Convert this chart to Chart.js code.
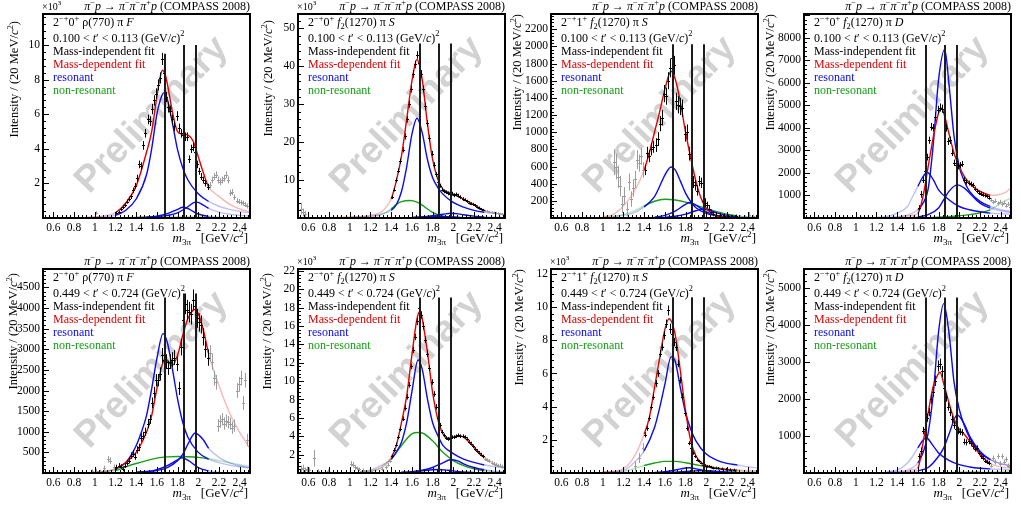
<!DOCTYPE html>
<html lang="en">
<head>
<meta charset="UTF-8">
<title>COMPASS 2008 – 2-+ waves</title>
<script src="https://cdn.jsdelivr.net/npm/chart.js"></script>
<style>
  body { margin: 0; background: #fff; }
  #grid { position: relative; width: 1021px; height: 509px; overflow: hidden; }
  #grid canvas { position: absolute; }
</style>
</head>
<body>
<div id="grid"></div>
<script>
// ---- panel descriptions ----
const waveM = ['0', '0', '1', '0', '0', '0', '1', '0'];
const waveIsobar = ['rho', 'f2', 'f2', 'f2', 'rho', 'f2', 'f2', 'f2'];
const waveL = ['F', 'S', 'S', 'D', 'F', 'S', 'S', 'D'];
const tBinLow = ['0.100', '0.100', '0.100', '0.100', '0.449', '0.449', '0.449', '0.449'];
const tBinHigh = ['0.113', '0.113', '0.113', '0.113', '0.724', '0.724', '0.724', '0.724'];
const inThousands = [true, true, false, false, false, true, true, false];
const yMax = [11.8, 53.8, 2378, 9050, 4946, 22.2, 12.3, 5527];
const yStep = [2, 10, 200, 1000, 500, 2, 2, 1000];
const fitLow = [1.2, 1.4, 1.4, 1.6, 1.2, 1.4, 1.4, 1.6];
const fitHigh = [2.1, 2.3, 2.3, 2.3, 2.1, 2.3, 2.3, 2.3];
const lineMasses = [1.68, 1.86, 1.98];
const lineTops = [[9.5, 10.0, 10.0], [46, 46, 46], [2026, 2026, 2026], [7680, 7680, 7680],
                  [4257, 4354, 4354], [19.1, 19.1, 19.1], [10.6, 10.6, 10.6], [4755, 4755, 4755]];

// tick labels
const xTickLabels = [0.6, 0.8, 1, 1.2, 1.4, 1.6, 1.8, 2, 2.2, 2.4];
const yTickLabels = [
  [2, 4, 6, 8, 10],
  [10, 20, 30, 40, 50],
  [200, 400, 600, 800, 1000, 1200, 1400, 1600, 1800, 2000, 2200],
  [1000, 2000, 3000, 4000, 5000, 6000, 7000, 8000],
  [500, 1000, 1500, 2000, 2500, 3000, 3500, 4000, 4500],
  [2, 4, 6, 8, 10, 12, 14, 16, 18, 20, 22],
  [2, 4, 6, 8, 10, 12],
  [1000, 2000, 3000, 4000, 5000]
];

// ---- panel 1: 2-+0+ rho(770) pi F, low t' ----
const p1Red = [[0.9,0.02],[1.0,0.06],[1.1,0.14],[1.2,0.3],[1.3,0.87],[1.4,1.85],[1.5,3.8],[1.55,5.0],[1.6,7.0],[1.63,8.1],[1.655,8.55],[1.68,8.3],[1.7,7.8],[1.75,6.15],[1.8,5.0],[1.85,4.85],[1.9,4.8],[1.95,4.45],[2.0,3.55],[2.05,2.6],[2.1,1.8],[2.2,1.25],[2.3,0.8],[2.4,0.52],[2.5,0.37]];
const p1Res1 = [[0.9,0.02],[1.0,0.04],[1.1,0.08],[1.2,0.16],[1.3,0.45],[1.4,1.1],[1.5,2.5],[1.55,4.0],[1.6,6.0],[1.65,7.1],[1.67,7.25],[1.7,6.9],[1.75,5.5],[1.8,3.95],[1.85,2.9],[1.9,2.2],[2.0,1.4],[2.1,0.96],[2.2,0.68],[2.3,0.5],[2.4,0.38],[2.5,0.3]];
const p1Res2 = [[1.4,0.02],[1.5,0.05],[1.6,0.11],[1.7,0.25],[1.8,0.5],[1.85,0.62],[1.9,0.55],[1.95,0.38],[2.0,0.23],[2.1,0.09],[2.2,0.04],[2.3,0.02]];
const p1Res3 = [[1.5,0.03],[1.6,0.08],[1.7,0.15],[1.8,0.3],[1.9,0.65],[1.97,0.92],[2.0,0.9],[2.05,0.74],[2.1,0.56],[2.2,0.34],[2.3,0.22],[2.4,0.15],[2.5,0.11]];
const p1NonRes = [[1.0,0.01],[1.2,0.02],[1.5,0.03],[1.8,0.03],[2.1,0.03],[2.5,0.02]];
const p1Points = [[1.01,0.30,0.10],[1.21,0.30,0.08],[1.23,0.35,0.08],[1.25,0.50,0.10],[1.27,0.62,0.10],[1.29,0.75,0.12],[1.31,0.95,0.12],[1.33,1.10,0.14],[1.35,1.25,0.15],[1.37,1.60,0.16],[1.39,1.85,0.18],[1.41,2.30,0.20],[1.43,3.10,0.22],[1.45,3.00,0.22],[1.47,4.20,0.25],[1.49,4.90,0.25],[1.51,5.70,0.28],[1.53,5.60,0.28],[1.55,6.30,0.30],[1.57,6.80,0.30],[1.59,7.20,0.30],[1.61,7.70,0.32],[1.63,8.10,0.32],[1.65,9.20,0.35],[1.67,8.40,0.35],[1.69,7.00,0.30],[1.71,6.40,0.30],[1.73,6.20,0.30],[1.75,5.70,0.28],[1.77,5.30,0.28],[1.79,5.90,0.28],[1.81,5.20,0.26],[1.83,4.90,0.25],[1.85,4.80,0.25],[1.87,4.70,0.25],[1.89,4.70,0.25],[1.91,3.40,0.22],[1.93,4.00,0.24],[1.95,4.10,0.24],[1.97,3.80,0.24],[1.99,3.10,0.22],[2.01,2.70,0.20],[2.03,2.40,0.20],[2.05,2.20,0.20],[2.07,2.00,0.18],[2.09,1.80,0.18],[2.11,1.90,0.18],[2.13,2.20,0.20],[2.15,2.40,0.20],[2.17,2.50,0.20],[2.19,2.20,0.20],[2.21,2.10,0.20],[2.23,2.20,0.20],[2.25,2.30,0.20],[2.27,2.50,0.20],[2.29,2.20,0.20],[2.31,1.45,0.18],[2.33,1.50,0.18],[2.35,1.20,0.16],[2.37,1.00,0.15],[2.39,0.95,0.15],[2.41,0.90,0.15],[2.43,0.85,0.14],[2.45,0.78,0.14],[2.47,0.70,0.14]];

// ---- panel 2: 2-+0+ f2(1270) pi S, low t' ----
const p2Red = [[0.8,0.1],[1.0,0.25],[1.2,0.7],[1.3,1.5],[1.35,2.8],[1.4,5.0],[1.45,9.8],[1.5,16.4],[1.55,26.0],[1.6,36.0],[1.65,41.8],[1.7,36.5],[1.75,25.0],[1.8,15.5],[1.85,10.3],[1.9,7.6],[1.95,6.8],[2.0,6.3],[2.05,5.7],[2.1,5.0],[2.2,3.45],[2.3,2.0],[2.4,1.27],[2.5,0.83]];
const p2Res1 = [[1.0,0.2],[1.2,0.5],[1.3,1.0],[1.4,2.0],[1.45,3.5],[1.5,7.0],[1.55,13.5],[1.6,22.0],[1.65,26.3],[1.7,22.5],[1.75,15.5],[1.8,10.7],[1.85,8.1],[1.9,6.3],[2.0,4.1],[2.1,2.85],[2.2,2.0],[2.3,1.5],[2.4,1.2],[2.5,1.0]];
const p2Res2 = [[1.6,0.1],[1.7,0.25],[1.8,0.4],[1.86,0.45],[1.95,0.35],[2.05,0.15],[2.2,0.05]];
const p2Res3 = [[1.6,0.15],[1.7,0.3],[1.8,0.6],[1.9,1.0],[1.98,1.27],[2.05,1.1],[2.1,0.85],[2.2,0.5],[2.3,0.3],[2.4,0.2],[2.5,0.15]];
const p2NonRes = [[1.1,0.1],[1.2,0.3],[1.3,0.8],[1.4,2.4],[1.45,3.6],[1.5,4.3],[1.58,4.6],[1.65,4.2],[1.7,3.4],[1.75,2.4],[1.8,1.5],[1.85,0.9],[1.9,0.5],[2.0,0.2],[2.1,0.08],[2.3,0.02]];
const p2Points = [[0.53,2.5,1.5],[0.55,1.5,1.0],[0.57,1.0,0.8],[1.41,5.5,0.5],[1.43,7.5,0.5],[1.45,10.0,0.6],[1.47,12.5,0.6],[1.49,15.0,0.7],[1.51,18.0,0.7],[1.53,21.5,0.8],[1.55,26.0,0.8],[1.57,30.0,0.9],[1.59,34.0,0.9],[1.61,38.0,1.0],[1.63,40.5,1.0],[1.65,43.0,1.0],[1.67,41.0,1.0],[1.69,38.0,1.0],[1.71,34.0,0.9],[1.73,29.5,0.9],[1.75,25.0,0.8],[1.77,21.0,0.8],[1.79,17.0,0.7],[1.81,14.0,0.7],[1.83,11.5,0.6],[1.85,9.5,0.6],[1.87,8.5,0.5],[1.89,7.5,0.5],[1.91,7.0,0.5],[1.93,6.8,0.5],[1.95,6.5,0.5],[1.97,6.2,0.5],[1.99,6.4,0.5],[2.01,6.0,0.5],[2.03,6.2,0.5],[2.05,5.9,0.5],[2.07,5.5,0.5],[2.09,5.0,0.5],[2.11,4.8,0.4],[2.13,4.4,0.4],[2.15,4.0,0.4],[2.17,3.8,0.4],[2.19,3.6,0.4],[2.21,3.3,0.4],[2.23,2.9,0.4],[2.25,2.6,0.4],[2.27,2.3,0.3],[2.29,2.1,0.3],[2.31,1.9,0.3],[2.33,1.8,0.3],[2.35,1.6,0.3],[2.37,1.5,0.3],[2.39,1.4,0.3],[2.41,1.3,0.3],[2.43,1.2,0.3],[2.45,1.1,0.3],[2.47,1.0,0.3],[2.49,0.9,0.3]];

// ---- panel 3: 2-+1+ f2(1270) pi S, low t' ----
const p3Red = [[1.0,15],[1.1,40],[1.2,140],[1.3,300],[1.4,560],[1.45,760],[1.5,1000],[1.55,1240],[1.6,1500],[1.66,1710],[1.7,1620],[1.75,1350],[1.8,1000],[1.85,700],[1.9,430],[1.95,230],[2.0,115],[2.05,55],[2.1,25],[2.2,8],[2.3,3],[2.5,1]];
const p3Res1 = [[1.1,15],[1.2,30],[1.3,60],[1.4,130],[1.5,250],[1.55,370],[1.6,500],[1.66,595],[1.7,560],[1.75,430],[1.8,290],[1.85,190],[1.9,120],[2.0,55],[2.1,25],[2.2,12],[2.3,6],[2.5,3]];
const p3Res2 = [[1.5,10],[1.6,30],[1.7,80],[1.8,160],[1.84,180],[1.9,150],[2.0,70],[2.1,30],[2.2,12],[2.3,5]];
const p3Res3 = [[1.6,10],[1.7,20],[1.8,45],[1.9,85],[1.96,105],[2.05,80],[2.1,60],[2.2,30],[2.3,15],[2.4,8],[2.5,5]];
const p3NonRes = [[1.0,10],[1.1,20],[1.2,40],[1.3,80],[1.4,140],[1.5,195],[1.6,218],[1.7,210],[1.8,185],[1.9,150],[2.0,110],[2.1,75],[2.2,45],[2.3,25],[2.4,12],[2.5,6]];
const p3Points = [[1.11,650,150],[1.13,600,150],[1.15,480,130],[1.17,370,120],[1.19,160,100],[1.21,260,100],[1.23,100,80],[1.25,420,100],[1.27,220,90],[1.29,350,100],[1.31,450,100],[1.33,680,110],[1.35,640,100],[1.37,720,100],[1.39,560,90],[1.41,560,60],[1.43,760,70],[1.45,720,70],[1.47,800,70],[1.49,830,70],[1.51,850,80],[1.53,920,80],[1.55,1100,90],[1.57,1170,90],[1.59,1450,100],[1.61,1420,100],[1.63,1600,100],[1.65,1750,110],[1.67,1860,120],[1.69,1780,110],[1.71,1360,100],[1.73,1320,100],[1.75,1300,100],[1.77,1280,100],[1.79,980,90],[1.81,1000,90],[1.83,750,80],[1.85,700,80],[1.87,420,70],[1.89,380,60],[1.91,320,60],[1.93,430,60],[1.95,410,60],[1.97,200,50],[1.99,180,50],[2.01,150,40],[2.03,110,40],[2.05,70,30],[2.07,50,30],[2.09,40,30],[2.13,30,30],[2.17,25,25],[2.21,20,20],[2.25,15,20],[2.29,20,20],[2.33,15,20],[2.37,10,20],[2.41,40,30],[2.45,20,20],[2.49,15,20]];

// ---- panel 4: 2-+0+ f2(1270) pi D, low t' ----
const p4Red = [[1.3,5],[1.4,30],[1.5,90],[1.55,130],[1.6,200],[1.65,955],[1.7,2285],[1.75,3615],[1.8,4650],[1.83,4870],[1.86,4500],[1.9,3760],[1.95,2875],[2.0,2285],[2.05,1840],[2.1,1545],[2.15,1325],[2.2,1180],[2.25,1075],[2.3,1015],[2.35,1010],[2.4,1060],[2.45,1150],[2.5,1325]];
const p4Res1 = [[1.2,30],[1.3,70],[1.4,215],[1.5,510],[1.55,955],[1.6,1400],[1.65,1840],[1.69,2020],[1.75,1690],[1.8,1250],[1.9,810],[2.0,510],[2.1,365],[2.2,275],[2.3,215],[2.4,185],[2.5,170]];
const p4Res2 = [[1.3,20],[1.4,60],[1.5,130],[1.6,365],[1.65,660],[1.7,1300],[1.75,3320],[1.8,6125],[1.86,7480],[1.9,5975],[1.95,3615],[2.0,2285],[2.05,1620],[2.1,1180],[2.2,735],[2.3,510],[2.4,365],[2.5,290]];
const p4Res3 = [[1.5,20],[1.6,50],[1.7,150],[1.8,440],[1.85,810],[1.9,1180],[1.98,1470],[2.05,1325],[2.1,1100],[2.2,660],[2.3,440],[2.4,320],[2.5,245]];
const p4NonRes = [[1.5,2],[1.6,5],[1.7,10],[1.8,30],[1.9,60],[2.0,100],[2.1,150],[2.2,230],[2.3,365],[2.4,660],[2.5,880]];
const p4Points = [[1.05,30,30],[1.45,40,40],[1.55,60,50],[1.61,450,120],[1.63,1050,150],[1.65,1700,150],[1.67,2100,150],[1.69,2700,150],[1.71,3450,160],[1.73,4050,170],[1.75,4000,170],[1.77,4500,180],[1.79,4800,180],[1.81,4900,180],[1.83,4850,180],[1.85,4700,180],[1.87,4000,170],[1.89,3400,160],[1.91,3450,160],[1.93,2900,150],[1.95,2450,140],[1.97,2350,140],[1.99,2300,140],[2.01,2350,130],[2.03,2400,130],[2.05,1700,120],[2.07,1600,120],[2.09,1550,110],[2.11,1500,110],[2.13,1450,110],[2.15,1300,100],[2.17,1200,100],[2.19,1120,100],[2.21,1080,100],[2.23,1040,100],[2.25,1000,90],[2.27,960,90],[2.29,900,90],[2.31,800,90],[2.33,700,90],[2.35,760,90],[2.37,650,90],[2.39,720,90],[2.41,600,90],[2.43,680,90],[2.45,550,90],[2.47,620,90],[2.49,500,90]];

// ---- panel 5: 2-+0+ rho(770) pi F, high t' ----
const p5Red = [[1.0,20],[1.1,50],[1.2,95],[1.25,175],[1.3,256],[1.4,500],[1.5,987],[1.55,1392],[1.6,2041],[1.65,2609],[1.68,2771],[1.7,2731],[1.75,2609],[1.8,2853],[1.85,3340],[1.9,3746],[1.95,3949],[1.97,3965],[2.0,3868],[2.05,3462],[2.1,2894],[2.2,2122],[2.3,1473],[2.4,987],[2.5,597]];
const p5Res1 = [[1.0,20],[1.1,40],[1.2,95],[1.3,256],[1.4,662],[1.45,987],[1.5,1392],[1.55,2041],[1.6,2771],[1.66,3380],[1.7,3177],[1.75,2528],[1.8,1798],[1.85,1230],[1.9,865],[2.0,500],[2.1,338],[2.2,250],[2.3,190],[2.4,150],[2.5,120]];
const p5Res2 = [[1.4,15],[1.5,30],[1.6,80],[1.7,180],[1.8,320],[1.84,370],[1.9,310],[2.0,130],[2.1,50],[2.2,20]];
const p5Res3 = [[1.4,20],[1.5,35],[1.6,60],[1.7,130],[1.8,300],[1.85,450],[1.9,700],[1.97,970],[2.05,800],[2.1,600],[2.2,380],[2.3,250],[2.4,170],[2.5,125]];
const p5NonRes = [[1.0,15],[1.1,35],[1.2,60],[1.3,150],[1.4,230],[1.5,300],[1.6,360],[1.7,390],[1.8,400],[1.9,395],[2.0,380],[2.1,345],[2.2,300],[2.3,250],[2.4,200],[2.5,160]];
const p5Points = [[0.97,50,40],[1.01,60,40],[1.05,40,40],[1.09,120,60],[1.13,330,80],[1.15,300,80],[1.19,150,60],[1.21,140,60],[1.23,180,60],[1.25,150,60],[1.27,100,60],[1.29,180,60],[1.31,250,70],[1.33,300,70],[1.35,420,80],[1.37,470,80],[1.39,400,80],[1.41,560,90],[1.43,620,90],[1.45,860,100],[1.47,900,100],[1.49,1000,100],[1.51,1200,110],[1.53,1300,110],[1.55,1700,130],[1.57,1950,140],[1.59,2250,150],[1.61,2250,150],[1.63,2400,160],[1.65,2850,180],[1.67,2750,180],[1.69,2700,180],[1.71,2550,170],[1.73,2700,180],[1.75,2750,180],[1.77,2800,180],[1.79,2650,180],[1.81,2050,160],[1.83,3050,200],[1.85,3700,250],[1.87,4100,250],[1.89,3950,250],[1.91,3900,250],[1.93,3850,250],[1.95,4200,250],[1.97,4050,250],[1.99,3750,230],[2.01,3650,220],[2.03,3600,220],[2.05,3300,210],[2.07,3000,200],[2.09,2800,200],[2.11,2900,200],[2.13,2700,200],[2.15,2300,180],[2.17,2200,180],[2.19,1150,150],[2.21,1250,150],[2.23,1300,150],[2.25,1200,150],[2.27,1270,150],[2.29,1230,150],[2.31,1200,150],[2.33,1100,150],[2.35,1150,150],[2.37,2000,180],[2.39,2150,180],[2.41,2300,180],[2.43,1700,170],[2.45,2250,180],[2.47,800,150]];

// ---- panel 6: 2-+0+ f2(1270) pi S, high t' ----
const p6Red = [[1.1,0.1],[1.2,0.2],[1.3,0.6],[1.4,1.7],[1.45,3.0],[1.5,5.5],[1.55,8.4],[1.6,12.8],[1.65,16.8],[1.68,17.6],[1.7,16.8],[1.75,13.2],[1.8,8.8],[1.85,5.9],[1.9,4.25],[1.95,3.8],[2.0,3.9],[2.05,4.07],[2.1,3.9],[2.15,3.4],[2.2,2.8],[2.3,1.7],[2.4,1.0],[2.5,0.6]];
const p6Res1 = [[1.1,0.15],[1.2,0.3],[1.3,0.8],[1.4,1.5],[1.45,2.3],[1.5,3.35],[1.55,5.5],[1.6,8.8],[1.66,12.3],[1.7,11.3],[1.75,8.1],[1.8,5.5],[1.85,4.1],[1.9,3.0],[2.0,2.1],[2.1,1.5],[2.2,1.15],[2.3,0.87],[2.4,0.7],[2.5,0.55]];
const p6Res2 = [[1.5,0.05],[1.6,0.1],[1.7,0.25],[1.8,0.35],[1.86,0.38],[1.95,0.3],[2.05,0.15],[2.2,0.05]];
const p6Res3 = [[1.5,0.08],[1.6,0.15],[1.7,0.3],[1.8,0.6],[1.9,1.1],[1.97,1.45],[2.05,1.3],[2.1,1.0],[2.2,0.6],[2.3,0.35],[2.4,0.2],[2.5,0.12]];
const p6NonRes = [[1.1,0.1],[1.2,0.2],[1.3,0.5],[1.4,1.5],[1.5,3.0],[1.6,4.25],[1.66,4.4],[1.7,4.35],[1.8,3.5],[1.9,2.25],[2.0,1.35],[2.1,0.8],[2.2,0.45],[2.3,0.25],[2.4,0.15],[2.5,0.08]];
const p6Points = [[0.53,0.4,0.4],[0.55,0.5,0.4],[0.57,0.3,0.3],[0.59,0.4,0.3],[0.61,0.3,0.3],[0.65,1.6,0.9],[0.69,0.2,0.2],[0.79,0.2,0.2],[1.01,1.0,0.3],[1.03,0.9,0.3],[1.05,0.6,0.3],[1.07,0.5,0.2],[1.09,0.4,0.2],[1.13,0.3,0.2],[1.21,0.2,0.2],[1.31,0.4,0.2],[1.35,0.6,0.2],[1.37,0.9,0.2],[1.39,1.3,0.2],[1.41,1.8,0.2],[1.43,2.5,0.2],[1.45,3.1,0.2],[1.47,3.9,0.2],[1.49,4.8,0.25],[1.51,5.9,0.25],[1.53,7.1,0.3],[1.55,8.3,0.3],[1.57,9.6,0.3],[1.59,11.6,0.3],[1.61,13.4,0.35],[1.63,14.8,0.35],[1.65,16.5,0.4],[1.67,18.0,0.4],[1.69,17.2,0.4],[1.71,16.0,0.4],[1.73,14.5,0.35],[1.75,13.0,0.35],[1.77,11.4,0.3],[1.79,9.9,0.3],[1.81,8.6,0.3],[1.83,7.2,0.3],[1.85,6.0,0.25],[1.87,5.2,0.25],[1.89,4.5,0.2],[1.91,4.1,0.2],[1.93,3.8,0.2],[1.95,3.7,0.2],[1.97,3.8,0.2],[1.99,3.9,0.2],[2.01,3.9,0.2],[2.03,4.0,0.2],[2.05,4.1,0.2],[2.07,4.0,0.2],[2.09,4.0,0.2],[2.11,3.9,0.2],[2.13,3.7,0.2],[2.15,3.4,0.2],[2.17,3.2,0.2],[2.19,2.9,0.2],[2.21,2.6,0.2],[2.23,2.4,0.2],[2.25,2.2,0.2],[2.27,2.0,0.2],[2.29,1.8,0.2],[2.31,1.5,0.2],[2.33,1.4,0.2],[2.35,1.3,0.2],[2.37,1.1,0.2],[2.39,1.0,0.2],[2.41,0.9,0.2],[2.43,0.8,0.2],[2.45,0.8,0.2],[2.47,0.7,0.2],[2.49,0.6,0.2]];

// ---- panel 7: 2-+1+ f2(1270) pi S, high t' ----
const p7Red = [[1.0,0.05],[1.1,0.1],[1.2,0.25],[1.3,0.94],[1.4,2.34],[1.45,3.34],[1.5,5.14],[1.55,6.94],[1.6,8.64],[1.64,9.3],[1.7,8.34],[1.75,6.14],[1.8,3.74],[1.85,1.94],[1.9,1.04],[1.95,0.64],[2.0,0.44],[2.1,0.3],[2.2,0.22],[2.3,0.18],[2.4,0.15],[2.5,0.12]];
const p7Res1 = [[1.0,0.05],[1.1,0.08],[1.2,0.15],[1.3,0.6],[1.4,1.34],[1.5,2.74],[1.55,3.94],[1.6,5.34],[1.66,7.0],[1.7,6.74],[1.75,5.14],[1.8,3.64],[1.85,2.64],[1.9,1.94],[2.0,1.14],[2.1,0.78],[2.2,0.58],[2.3,0.48],[2.4,0.38],[2.5,0.3]];
const p7Res2 = [[1.5,0.03],[1.6,0.08],[1.7,0.18],[1.8,0.3],[1.84,0.32],[1.9,0.25],[2.0,0.12],[2.1,0.05],[2.2,0.02]];
const p7Res3 = [[1.6,0.02],[1.7,0.05],[1.8,0.09],[1.9,0.13],[1.98,0.15],[2.1,0.1],[2.2,0.06],[2.3,0.04],[2.5,0.02]];
const p7NonRes = [[1.0,0.03],[1.1,0.06],[1.2,0.1],[1.3,0.25],[1.4,0.45],[1.5,0.6],[1.6,0.7],[1.7,0.7],[1.8,0.62],[1.9,0.5],[2.0,0.38],[2.1,0.27],[2.2,0.18],[2.3,0.12],[2.4,0.08],[2.5,0.05]];
const p7Points = [[1.31,0.4,0.3],[1.35,0.9,0.3],[1.39,1.5,0.3],[1.41,2.3,0.15],[1.43,2.7,0.15],[1.45,3.3,0.15],[1.47,4.0,0.18],[1.49,4.6,0.18],[1.51,5.4,0.2],[1.53,6.0,0.2],[1.55,7.2,0.22],[1.57,7.6,0.22],[1.59,8.3,0.25],[1.61,9.0,0.25],[1.63,9.8,0.3],[1.65,8.7,0.3],[1.67,8.4,0.3],[1.69,7.9,0.25],[1.71,7.6,0.25],[1.73,6.6,0.22],[1.75,5.6,0.2],[1.77,4.6,0.2],[1.79,3.6,0.18],[1.81,2.7,0.15],[1.83,1.8,0.12],[1.85,1.5,0.12],[1.87,1.2,0.1],[1.89,1.0,0.1],[1.91,0.8,0.1],[1.93,0.7,0.08],[1.95,0.6,0.08],[1.97,0.5,0.08],[1.99,0.45,0.08],[2.01,0.4,0.08],[2.03,0.4,0.08],[2.05,0.35,0.08],[2.07,0.3,0.08],[2.09,0.3,0.08],[2.11,0.28,0.08],[2.15,0.25,0.08],[2.19,0.22,0.08],[2.23,0.2,0.08],[2.27,0.18,0.08]];

// ---- panel 8: 2-+0+ f2(1270) pi D, high t' ----
const p8Red = [[1.4,10],[1.5,50],[1.55,90],[1.6,136],[1.65,818],[1.7,1636],[1.75,2364],[1.8,2700],[1.815,2730],[1.85,2420],[1.9,1909],[1.95,1455],[2.0,1182],[2.05,1045],[2.1,864],[2.15,682],[2.2,500],[2.25,364],[2.3,255],[2.4,164],[2.5,136]];
const p8Res1 = [[1.3,30],[1.4,80],[1.5,273],[1.55,454],[1.6,682],[1.68,955],[1.75,727],[1.8,545],[1.9,345],[2.0,227],[2.1,164],[2.2,127],[2.3,109],[2.4,98],[2.5,90]];
const p8Res2 = [[1.3,20],[1.4,45],[1.5,80],[1.6,273],[1.65,545],[1.7,1090],[1.75,2180],[1.8,3818],[1.85,4590],[1.9,3818],[1.95,2454],[2.0,1727],[2.05,1272],[2.1,955],[2.2,545],[2.3,364],[2.4,255],[2.5,182]];
const p8Res3 = [[1.4,15],[1.5,30],[1.6,60],[1.7,150],[1.8,454],[1.85,682],[1.9,1045],[1.98,1570],[2.05,1318],[2.1,1000],[2.2,590],[2.3,364],[2.4,255],[2.5,200]];
const p8NonRes = [[1.4,2],[1.6,5],[1.8,10],[2.0,15],[2.2,22],[2.4,35],[2.5,45]];
const p8Points = [[1.61,450,80],[1.63,600,90],[1.65,1150,100],[1.67,1200,100],[1.69,1500,110],[1.71,1650,110],[1.73,2000,120],[1.75,2200,130],[1.77,2500,140],[1.79,2900,150],[1.81,2950,150],[1.83,2750,150],[1.85,2300,130],[1.87,2050,120],[1.89,1800,110],[1.91,1650,110],[1.93,1450,100],[1.95,1300,100],[1.97,1180,90],[1.99,1140,90],[2.01,1120,90],[2.03,1100,90],[2.05,850,80],[2.07,830,80],[2.09,860,80],[2.11,800,80],[2.13,720,80],[2.15,650,70],[2.17,680,70],[2.19,550,70],[2.21,450,70],[2.23,410,70],[2.25,330,60],[2.27,300,60],[2.29,270,60],[2.31,200,60],[2.33,400,70],[2.35,300,70],[2.37,450,70],[2.39,250,70],[2.41,450,70],[2.43,300,70],[2.45,370,70],[2.47,200,60],[2.49,150,60]];

const redCurves = [p1Red, p2Red, p3Red, p4Red, p5Red, p6Red, p7Red, p8Red];
const resCurves = [[p1Res1, p1Res2, p1Res3], [p2Res1, p2Res2, p2Res3], [p3Res1, p3Res2, p3Res3], [p4Res1, p4Res2, p4Res3],
                   [p5Res1, p5Res2, p5Res3], [p6Res1, p6Res2, p6Res3], [p7Res1, p7Res2, p7Res3], [p8Res1, p8Res2, p8Res3]];
const nonResCurves = [p1NonRes, p2NonRes, p3NonRes, p4NonRes, p5NonRes, p6NonRes, p7NonRes, p8NonRes];
const pointSets = [p1Points, p2Points, p3Points, p4Points, p5Points, p6Points, p7Points, p8Points];

// ---- layout (pixels) ----
const panelLeft = [0, 255, 508, 761, 0, 255, 508, 761];
const panelTop = [0, 0, 0, 0, 255, 255, 255, 255];
const yTitleX = [15, 14, 10, 10, 14, 13, 12, 10];
const yTitleEnd = [21, 20, 14, 14, 18, 18, 14, 14];

const SERIF = '"Liberation Serif", "DejaVu Serif", serif';
const RED = '#e00000', BLUE = '#0a0aee', GREEN = '#16a016';
const RED_F = 'rgba(235,0,0,0.28)', BLUE_F = 'rgba(0,0,235,0.25)', GREEN_F = 'rgba(0,170,0,0.3)';

function fontFor(st, size) {
  const s = (st === 'sup' || st === 'sub') ? size * 0.7 : size;
  return (st === 'i' ? 'italic ' : '') + s.toFixed(1) + 'px ' + SERIF;
}

function drawRich(ctx, parts, x, y, size, align, color) {
  let w = 0;
  parts.forEach(([t, st]) => { ctx.font = fontFor(st, size); w += ctx.measureText(t).width; });
  let cx = align === 'right' ? x - w : x;
  ctx.textAlign = 'left';
  ctx.textBaseline = 'middle';
  ctx.fillStyle = color || '#000';
  parts.forEach(([t, st]) => {
    ctx.font = fontFor(st, size);
    const dy = st === 'sup' ? -size * 0.36 : st === 'sub' ? size * 0.28 : 0;
    ctx.fillText(t, cx, y + dy);
    cx += ctx.measureText(t).width;
  });
}

function waveParts(i) {
  const iso = waveIsobar[i] === 'rho' ? [['ρ(770)', 'n']] : [['f', 'i'], ['2', 'sub'], ['(1270)', 'n']];
  return [['2', 'n'], ['−+', 'sup'], [waveM[i], 'n'], ['+', 'sup'], [' ', 'n']]
    .concat(iso, [[' π ', 'n'], [waveL[i], 'i']]);
}

const titleParts = [['π', 'i'], ['−', 'sup'], ['p', 'i'], [' → ', 'n'], ['π', 'i'], ['−', 'sup'], ['π', 'i'], ['−', 'sup'],
                    ['π', 'i'], ['+', 'sup'], ['p', 'i'], [' (COMPASS 2008)', 'n']];
const yTitleParts = [['Intensity / (20 MeV/', 'n'], ['c', 'i'], ['2', 'sup'], [')', 'n']];
const xTitleParts = [['m', 'i'], ['3π', 'sub'], ['   [GeV/', 'n'], ['c', 'i'], ['2', 'sup'], [']', 'n']];

const panelPlugin = {
  id: 'panel',
  beforeDatasetsDraw(chart) {
    const { ctx, chartArea: a } = chart;
    ctx.save();
    ctx.translate(a.left + 109, a.top + 101);
    ctx.rotate(-46 * Math.PI / 180);
    ctx.font = 'bold 37px "Liberation Sans", Arial, sans-serif';
    ctx.fillStyle = '#d2d2d2';
    ctx.textAlign = 'center';
    ctx.textBaseline = 'middle';
    ctx.fillText('Preliminary', 0, 0);
    ctx.restore();
  },
  afterDatasetsDraw(chart, args, o) {
    const i = o.index;
    const { ctx, chartArea: a } = chart;
    const xs = chart.scales.x, ys = chart.scales.y;
    ctx.save();
    ctx.beginPath();
    ctx.rect(a.left, a.top, a.width, a.height);
    ctx.clip();
    // error bars of the mass-independent fit
    chart.data.datasets.forEach(ds => {
      if (!ds.barColor) return;
      ctx.strokeStyle = ds.barColor;
      ctx.lineWidth = 1;
      ds.data.forEach(d => {
        const px = Math.round(xs.getPixelForValue(d.x)) + 0.5;
        const py = Math.round(ys.getPixelForValue(d.y)) + 0.5;
        ctx.beginPath();
        ctx.moveTo(px, ys.getPixelForValue(Math.max(0, d.y - d.e)));
        ctx.lineTo(px, ys.getPixelForValue(d.y + d.e));
        ctx.moveTo(px - 1.5, py);
        ctx.lineTo(px + 1.5, py);
        ctx.stroke();
      });
    });
    // resonance mass markers
    ctx.strokeStyle = '#1c1c1c';
    ctx.lineWidth = 2;
    lineMasses.forEach((m, k) => {
      const px = Math.round(xs.getPixelForValue(m));
      ctx.beginPath();
      ctx.moveTo(px, ys.getPixelForValue(0));
      ctx.lineTo(px, ys.getPixelForValue(lineTops[i][k]));
      ctx.stroke();
    });
    ctx.restore();

    // frame and inward ticks
    ctx.save();
    ctx.strokeStyle = '#000';
    ctx.lineWidth = 1;
    for (let k = 0; k < 50; k++) {
      const v = 0.52 + k * 0.04;
      const major = xTickLabels.some(t => Math.abs(t - v) < 1e-6);
      const px = Math.round(xs.getPixelForValue(v)) + 0.5;
      ctx.beginPath();
      ctx.moveTo(px, a.bottom);
      ctx.lineTo(px, a.bottom - (major ? 6 : 3));
      ctx.stroke();
    }
    const minor = yStep[i] / 5;
    for (let k = 1; k * minor < yMax[i]; k++) {
      const v = k * minor;
      const major = k % 5 === 0;
      const py = Math.round(ys.getPixelForValue(v)) + 0.5;
      ctx.beginPath();
      ctx.moveTo(a.left, py);
      ctx.lineTo(a.left + (major ? 6 : 3), py);
      ctx.stroke();
    }
    ctx.lineWidth = 2;
    ctx.strokeRect(a.left, a.top, a.width, a.height);
    ctx.restore();
  },
  afterDraw(chart, args, o) {
    const i = o.index;
    const { ctx, chartArea: a } = chart;
    ctx.save();
    drawRich(ctx, titleParts, a.right, 7, 12, 'right');
    if (inThousands[i]) drawRich(ctx, [['×10', 'n'], ['3', 'sup']], a.left - 1, 7, 10, 'left');
    const lx = a.left + 10;
    drawRich(ctx, waveParts(i), lx, a.top + 9, 12, 'left');
    drawRich(ctx, [[tBinLow[i] + ' < ', 'n'], ['t', 'i'], ['′ < ' + tBinHigh[i] + ' (GeV/', 'n'], ['c', 'i'], [')', 'n'], ['2', 'sup']],
      lx, a.top + 24.5, 12, 'left');
    drawRich(ctx, [['Mass-independent fit', 'n']], lx, a.top + 37.7, 12, 'left', '#000');
    drawRich(ctx, [['Mass-dependent fit', 'n']], lx, a.top + 50.9, 12, 'left', RED);
    drawRich(ctx, [['resonant', 'n']], lx, a.top + 64.1, 12, 'left', BLUE);
    drawRich(ctx, [['non-resonant', 'n']], lx, a.top + 77.3, 12, 'left', GREEN);
    ctx.save();
    ctx.translate(yTitleX[i], yTitleEnd[i]);
    ctx.rotate(-Math.PI / 2);
    drawRich(ctx, yTitleParts, 0, 0, 12.5, 'right');
    ctx.restore();
    drawRich(ctx, xTitleParts, a.right - 2, a.bottom + 21, 13, 'right');
    ctx.restore();
  }
};

function curveSet(data, solid, faded, lo, hi, order) {
  return {
    data: data.map(p => ({ x: p[0], y: p[1] })),
    borderColor: solid,
    borderWidth: 1.4,
    pointRadius: 0,
    fill: false,
    cubicInterpolationMode: 'monotone',
    order: order,
    segment: {
      borderColor: c => (c.p0.parsed.x >= lo - 1e-9 && c.p1.parsed.x <= hi + 1e-9) ? solid : faded
    }
  };
}

const grid = document.getElementById('grid');
for (let i = 0; i < 8; i++) {
  const cv = document.createElement('canvas');
  cv.width = 255;
  cv.height = 255;
  cv.style.left = panelLeft[i] + 'px';
  cv.style.top = panelTop[i] + 'px';
  grid.appendChild(cv);

  const lo = fitLow[i], hi = fitHigh[i];
  const pts = pointSets[i].map(p => ({ x: p[0], y: p[1], e: p[2] }));
  const inside = pts.filter(p => p.x >= lo && p.x <= hi);
  const outside = pts.filter(p => p.x < lo || p.x > hi);

  const datasets = [
    curveSet(redCurves[i], RED, RED_F, lo, hi, 0),
    ...resCurves[i].map(c => curveSet(c, BLUE, BLUE_F, lo, hi, 1)),
    curveSet(nonResCurves[i], GREEN, GREEN_F, lo, hi, 2),
    { data: inside, showLine: false, pointRadius: 0, barColor: '#000', order: 3 },
    { data: outside, showLine: false, pointRadius: 0, barColor: '#9c9c9c', order: 4 }
  ];

  const tickFont = { family: SERIF, size: 11.5 };
  new Chart(cv, {
    type: 'line',
    data: { datasets },
    options: {
      responsive: false,
      animation: false,
      devicePixelRatio: 1,
      events: [],
      layout: { padding: { top: 14, right: 5, left: 0, bottom: 0 } },
      plugins: { legend: { display: false }, tooltip: { enabled: false }, panel: { index: i } },
      scales: {
        x: {
          type: 'linear', min: 0.5, max: 2.5,
          grid: { display: false, drawTicks: false }, border: { display: false },
          afterBuildTicks: s => { s.ticks = xTickLabels.map(v => ({ value: v })); },
          afterFit: s => { s.height = 37; },
          ticks: { autoSkip: false, maxRotation: 0, minRotation: 0, padding: 3, color: '#000', font: tickFont,
                   callback: v => String(v) }
        },
        y: {
          type: 'linear', min: 0, max: yMax[i],
          grid: { display: false, drawTicks: false }, border: { display: false },
          afterBuildTicks: s => { s.ticks = yTickLabels[i].map(v => ({ value: v })); },
          afterFit: s => { s.width = 43; },
          ticks: { autoSkip: false, padding: 3, color: '#000', font: tickFont, callback: v => String(v) }
        }
      }
    },
    plugins: [panelPlugin]
  });
}
</script>
</body>
</html>
